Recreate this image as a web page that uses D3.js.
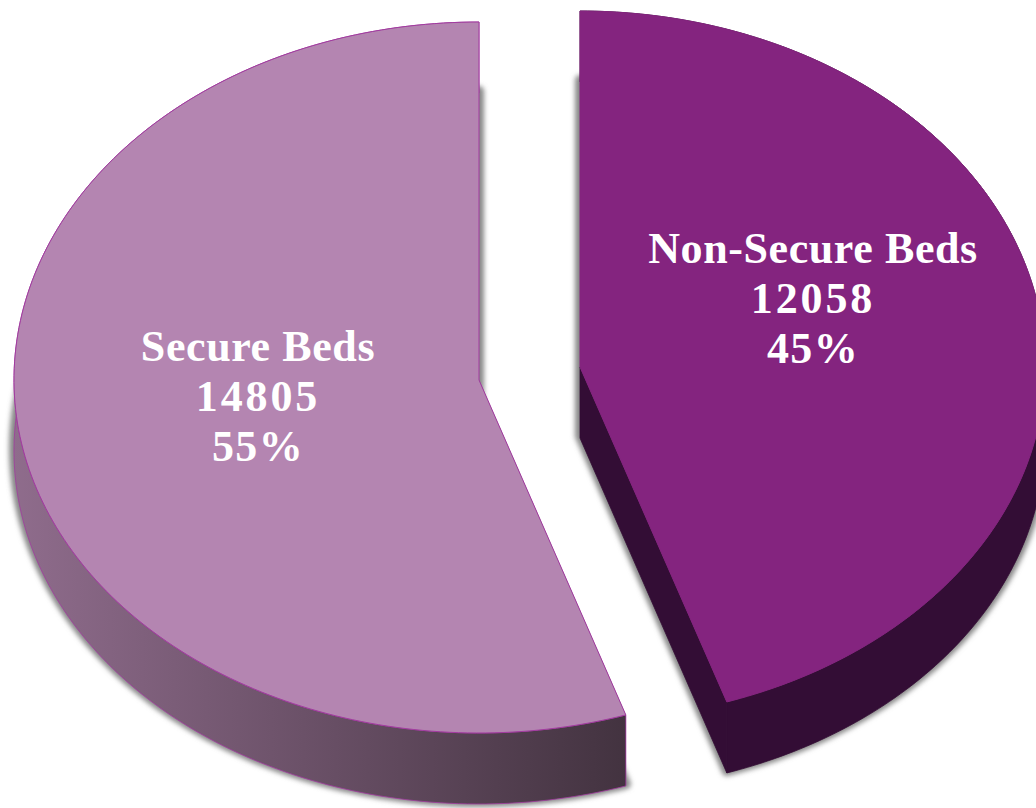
<!DOCTYPE html>
<html>
<head>
<meta charset="utf-8">
<script src="https://cdn.jsdelivr.net/npm/d3@7"></script>
<style>
html, body { margin: 0; padding: 0; background: #fff; overflow: hidden; }
svg { display: block; }
</style>
</head>
<body>
<div id="chart"></div>
<script>
// values
var categories = ["Non-Secure Beds", "Secure Beds"];
var beds = [12058, 14805];
var percents = ["45%", "55%"];

var width = 1036, height = 808;

// ellipse of each exploded slice
var centers = d3.scaleOrdinal().domain(categories).range([[580, 367], [479, 380]]);
var topRadius = d3.scaleOrdinal().domain(categories).range([356, 358]);
var labelPos = d3.scaleOrdinal().domain(categories).range([[813, 263], [258, 361]]);
var topColor = d3.scaleOrdinal().domain(categories).range(["#84247f", "#b485b1"]);
var edgeColor = d3.scaleOrdinal().domain(categories).range(["#84247f", "#a23ba0"]);
var rx = 465, ryBottom = 353, depth = 71;
// the label font is narrower than the original, spread each line a bit
var lineSpacing = ["0.6px", "2.9px", "1.3px"];

var svg = d3.select("#chart").append("svg")
  .attr("width", width)
  .attr("height", height);

var defs = svg.append("defs");

defs.append("filter")
  .attr("id", "blur")
  .attr("x", "-5%").attr("y", "-5%")
  .attr("width", "110%").attr("height", "110%")
  .append("feGaussianBlur")
  .attr("stdDeviation", 2.4);

// side of the secure slice goes dark from left to right
var grad = defs.append("linearGradient")
  .attr("id", "sideGrad")
  .attr("gradientUnits", "userSpaceOnUse")
  .attr("x1", 14).attr("x2", 625)
  .attr("y1", 0).attr("y2", 0);
grad.append("stop").attr("offset", "0").attr("stop-color", "#8f6c8c");
grad.append("stop").attr("offset", "1").attr("stop-color", "#433340");

var sideColor = d3.scaleOrdinal().domain(categories).range(["#330d35", "url(#sideGrad)"]);
var wallEdge = d3.scaleOrdinal().domain(categories).range(["#330d35", "#a23ba0"]);

var pie = d3.pie().sort(null).startAngle(0).endAngle(2 * Math.PI);
var slices = pie(beds).map(function(s, i) {
  s.name = categories[i];
  s.percent = percents[i];
  return s;
});

// point on the tilted pie, angle clockwise from 12 o'clock
function point(s, a, dy) {
  var c = centers(s.name);
  var ry = Math.cos(a) > 0 ? topRadius(s.name) : ryBottom;
  return [c[0] + rx * Math.sin(a), c[1] - ry * Math.cos(a) + dy];
}

function arcPoints(s, dy) {
  var n = 180;
  return d3.range(n + 1).map(function(i) {
    return point(s, s.startAngle + (s.endAngle - s.startAngle) * i / n, dy);
  });
}

function facePoints(s, dy) {
  var c = centers(s.name);
  return [[c[0], c[1] + dy]].concat(arcPoints(s, dy));
}

var line = d3.line();

// soft shadow round the lower face
svg.append("g").attr("filter", "url(#blur)")
  .selectAll("path")
  .data(slices)
  .enter()
  .append("path")
  .attr("d", function(d) { return line(facePoints(d, depth - 2)) + "Z"; })
  .attr("fill", "#888")
  .attr("stroke", "#888")
  .attr("stroke-width", 10)
  .attr("stroke-linejoin", "round");

var pieces = svg.selectAll(".slice")
  .data(slices)
  .enter()
  .append("g")
  .attr("class", "slice");

// walls of the two cut edges
pieces.append("path")
  .attr("d", function(d) {
    var c = centers(d.name);
    var p = point(d, d.startAngle, 0);
    return line([c, p, [p[0], p[1] + depth], [c[0], c[1] + depth]]) + "Z";
  })
  .attr("fill", function(d) { return sideColor(d.name); });

pieces.append("path")
  .attr("d", function(d) {
    var c = centers(d.name);
    var p = point(d, d.endAngle, 0);
    return line([c, p, [p[0], p[1] + depth], [c[0], c[1] + depth]]) + "Z";
  })
  .attr("fill", function(d) { return sideColor(d.name); })
  .attr("stroke", function(d) { return d.name == "Secure Beds" ? "none" : wallEdge(d.name); })
  .attr("stroke-width", 0.8);

// outer wall
pieces.append("path")
  .attr("d", function(d) {
    return line(arcPoints(d, 0).concat(arcPoints(d, depth).reverse())) + "Z";
  })
  .attr("fill", function(d) { return sideColor(d.name); })
  .attr("stroke", function(d) { return wallEdge(d.name); })
  .attr("stroke-width", 0.8);

// top face
pieces.append("path")
  .attr("d", function(d) { return line(facePoints(d, 0)) + "Z"; })
  .attr("fill", function(d) { return topColor(d.name); })
  .attr("stroke", function(d) { return edgeColor(d.name); })
  .attr("stroke-width", 1);

// labels
var labels = svg.selectAll(".label")
  .data(slices)
  .enter()
  .append("text")
  .attr("class", "label")
  .attr("text-anchor", "middle")
  .attr("fill", "#fff")
  .style("font-family", "'Liberation Serif', serif")
  .style("font-weight", "bold")
  .style("font-size", "44px");

labels.selectAll("tspan")
  .data(function(d) {
    return [d.name, String(d.value), d.percent].map(function(t, i) {
      return { text: t, x: labelPos(d.name)[0], y: labelPos(d.name)[1] + i * 50, spacing: lineSpacing[i] };
    });
  })
  .enter()
  .append("tspan")
  .attr("x", function(d) { return d.x; })
  .attr("y", function(d) { return d.y; })
  .style("letter-spacing", function(d) { return d.spacing; })
  .text(function(d) { return d.text; });
</script>
</body>
</html>
